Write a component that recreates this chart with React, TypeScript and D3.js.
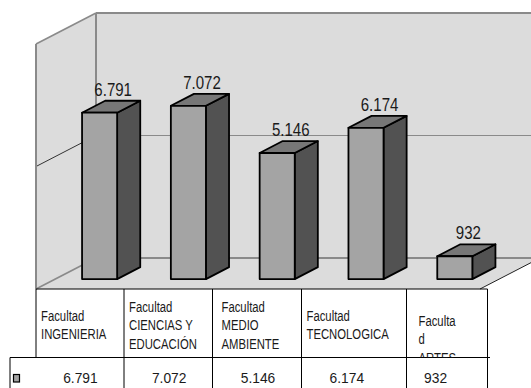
import React from "react";
import * as d3 from "d3";

// chart data
const categories = [
  "Facultad INGENIERIA",
  "Facultad CIENCIAS Y EDUCACIÓN",
  "Facultad MEDIO AMBIENTE",
  "Facultad TECNOLOGICA",
  "Facultad ARTES",
];
const headerLines = [
  ["Facultad", "INGENIERIA"],
  ["Facultad", "CIENCIAS Y", "EDUCACIÓN"],
  ["Facultad", "MEDIO", "AMBIENTE"],
  ["Facultad", "TECNOLOGICA"],
  ["Faculta", "d", "ARTES"],
];
const values = [6791, 7072, 5146, 6174, 932];
const gridValues = [0, 5000, 10000];

// spanish style thousands: 6.791
const fmt = d3
  .formatLocale({ decimal: ",", thousands: ".", grouping: [3], currency: ["", ""] })
  .format(",");

const W = 531;
const H = 388;
const floorY = 289;
const x0 = 36;
const x1 = 480;
const depthX = 60;
const depthY = 31;
const plotH = 245;
const f0 = 0.32;
const f1 = 0.705;

// excel table borders (not the same as the bar slots)
const colEdges = [36, 124, 212.5, 301.5, 406.5, 487.5];
const headerPad = [5, 5, 9, 5, 12];
const headerShift = [0, 0, 0, 0, 14];
const rowY = 357.5;

const wallFill = "#dcdcdc";
const wallLine = "#8a8a8a";
const font = "'Liberation Sans', Arial, sans-serif";

export default function App() {
  const x = d3.scaleBand<string>().domain(categories).range([x0, x1]).padding(0);
  const y = d3.scaleLinear().domain([0, 10000]).range([0, plotH]);
  const step = x.step();
  const bw = step * 0.395;
  const ddx = depthX * (f1 - f0);
  const ddy = depthY * (f1 - f0);

  const backX = x0 + depthX;
  const backY = floorY - depthY;
  const topY = backY - y(10000);

  return (
    <svg
      width={W}
      height={H}
      viewBox={`0 0 ${W} ${H}`}
      style={{ position: "fixed", left: 0, top: 0, background: "#fff" }}
    >
      <defs>
        <clipPath id="hdr">
          <rect x={0} y={floorY} width={W} height={rowY - floorY} />
        </clipPath>
      </defs>

      {/* walls and floor */}
      <polygon
        points={`${x0},${floorY - y(10000)} ${backX},${topY} ${backX},${backY} ${x0},${floorY}`}
        fill={wallFill}
      />
      <rect x={backX} y={topY} width={W - backX + 20} height={backY - topY} fill={wallFill} />
      <polygon
        points={`${x0},${floorY} ${x1},${floorY} ${x1 + depthX},${backY} ${backX},${backY}`}
        fill={wallFill}
      />

      {/* gridlines */}
      {gridValues.map((g) => (
        <g key={g}>
          <line
            x1={backX}
            x2={W + 20}
            y1={backY - y(g)}
            y2={backY - y(g)}
            stroke={wallLine}
            strokeWidth={g === 5000 ? 1.2 : 2}
          />
          <line
            x1={x0}
            y1={floorY - y(g)}
            x2={backX}
            y2={backY - y(g)}
            stroke={g === 5000 ? "#333" : wallLine}
            strokeWidth={g === 5000 ? 1 : 1.6}
          />
        </g>
      ))}
      <line x1={x0} x2={x0} y1={floorY - y(10000)} y2={floorY} stroke={wallLine} strokeWidth={2} />
      <line x1={backX} x2={backX} y1={topY} y2={backY} stroke={wallLine} strokeWidth={2} />
      <line x1={x1} y1={floorY} x2={x1 + depthX} y2={backY} stroke="#222" strokeWidth={1} />

      {/* bars */}
      {categories.map((c, i) => {
        const fx = (x(c) ?? 0) + depthX * f0 + (step - bw) / 2;
        const by = floorY - depthY * f0;
        const top = by - y(values[i]);
        return (
          <g key={c} stroke="#000" strokeWidth={1.8} strokeLinejoin="round">
            <polygon
              points={`${fx + bw},${top} ${fx + bw + ddx},${top - ddy} ${fx + bw + ddx},${by - ddy} ${fx + bw},${by}`}
              fill="#525252"
            />
            <polygon
              points={`${fx},${top} ${fx + ddx},${top - ddy} ${fx + bw + ddx},${top - ddy} ${fx + bw},${top}`}
              fill="#777"
            />
            <rect x={fx} y={top} width={bw} height={by - top} fill="#a4a4a4" />
            <text
              transform={`translate(${fx + (bw + ddx) / 2 + 2},${top - ddy - 5}) scale(0.86,1)`}
              textAnchor="middle"
              fontFamily={font}
              fontSize={17.5}
              fill="#1a1a1a"
              stroke="none"
            >
              {fmt(values[i])}
            </text>
          </g>
        );
      })}

      {/* data table */}
      <g stroke="#000" strokeWidth={1}>
        <line x1={colEdges[0]} x2={colEdges[colEdges.length - 1]} y1={floorY} y2={floorY} />
        <line x1={10} x2={490} y1={rowY} y2={rowY} />
        <line x1={10} x2={10} y1={rowY} y2={H} />
        {colEdges.map((e, i) => (
          <line key={i} x1={e} x2={e} y1={floorY} y2={i === 0 ? rowY : H} />
        ))}
      </g>
      <rect x={13.5} y={374.5} width={6} height={7.5} fill="#a4a4a4" stroke="#000" strokeWidth={1.2} />

      <g clipPath="url(#hdr)" fontFamily={font} fontSize={14.5} fill="#1a1a1a">
        {headerLines.map((lines, i) => {
          const first = 330 - (lines.length - 1) * 9.25 + headerShift[i];
          return lines.map((ln, j) => (
            <text
              key={`${i}-${j}`}
              transform={`translate(${colEdges[i] + headerPad[i]},${first + j * 18.5}) scale(0.78,1)`}
            >
              {ln}
            </text>
          ));
        })}
      </g>

      <g fontFamily={font} fontSize={15} fill="#1a1a1a">
        {categories.map((c, i) => (
          <text
            key={c}
            transform={`translate(${(x(c) ?? 0) + step / 2},${383}) scale(0.92,1)`}
            textAnchor="middle"
          >
            {fmt(values[i])}
          </text>
        ))}
      </g>
    </svg>
  );
}
